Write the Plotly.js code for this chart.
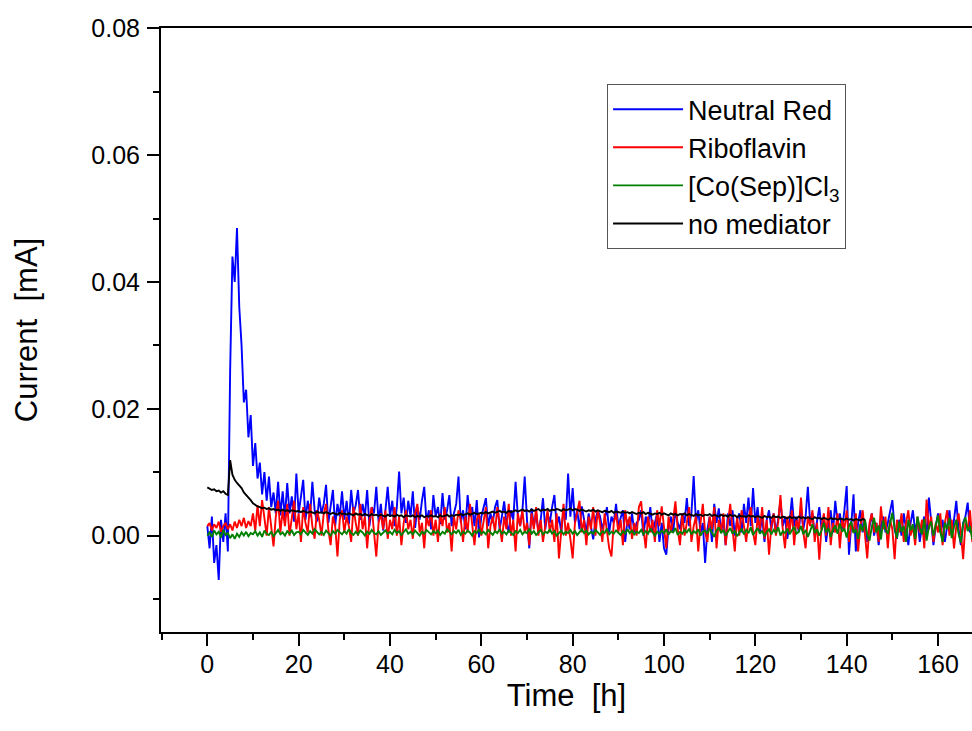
<!DOCTYPE html>
<html>
<head>
<meta charset="utf-8">
<script src="https://cdn.plot.ly/plotly-3.0.1.min.js"></script>
<style>
  html, body { margin: 0; padding: 0; background: #fff; }
  #chart { width: 972px; height: 731px; }
</style>
</head>
<body>
<div id="chart"></div>
<script>
// Time axis: samples every 0.5 h starting at 0 h (x0 / dx used by Plotly)
const timeStart_h = 0;
const timeStep_h = 0.5;

const seriesNames = ["Neutral Red", "Riboflavin", "[Co(Sep)]Cl<sub>3</sub>", "no mediator"];
const xTitle = "Time  [h]";
const yTitle = "Current  [mA]";

// Current values in µA (converted to mA when plotting)
const neutralRed_uA = [
  1.5, -2.0, 3.0, -4.3, -1.5, -7.0, 2.5, -1.0, 3.5, -2.5, 26, 44, 40, 48.5, 36, 30, 21, 23, 15.5, 19,
  11, 14.6, 9, 11.5, 6.5, 10, 5.5, 9.3, 4.5, 6.8, 3.5, 8.5, 3.2, 7, 2.8, 8.3, 3.5, 6.2, 2.2, 9.8,
  3.5, 5.8, 8.8, 2.5, 5.5, 3, 8.5, 4, 2.2, 6, 3.5, 5, 8, 2, 4.5, 7.2, 1.5, 5, 3, 7,
  2.5, 5.5, 1.8, 7.2, 3.5, 4.8, 7.2, 2.5, 5, 3, 7.2, 1.5, 4.5, 3.5, 7.7, 2.2, 5, 0.8, 4, 7.7,
  3, 5.5, 1.5, 4.5, 10.1, 3.5, 6, 2, 5.5, 3, 7, 1.2, 4.5, 2.5, 5.5, 7.7, 2, 4, 1, 6.4,
  3, 4.5, 1.8, 6.7, 2.5, 4, 6.4, 1.5, 3.5, 5, 9.3, 2, 4, 1, 6.4, 3, 4.5, 1.5, 5.6, -0.3,
  3, 4.5, 5.9, 1.5, 3.5, 2, 4.5, 5.6, 1, 3, 5.4, 2, 0.5, 4, 2.5, 8.5, 3, 1.5, 4, 9.3,
  2.5, -2, 4.3, 1.5, 3.5, 0.5, 2.5, 5.9, 1, 3.5, 2, 4.5, 6.4, 1.5, 3, 0.5, 4, 2.5, 9.8, 3,
  7.5, 2, 4, 1, 4.6, 2.5, 0.5, 3.5, 1.5, -0.6, 2.5, 4, 3, 1, 2.5, 4.5, 0.5, 3, 2, 5,
  1.5, 3, 4, -1, 2.5, 1, 3.5, 0.5, 2, 2.5, 4, 0, 3, 1.5, 4.5, 0.5, 2, 3.5, -1, 2,
  -2, -3, 1.5, 3, 0.5, 4, 2, 1, 3.5, 2, 5.9, 1.5, 3.5, 9.4, 2, 4, 0.5, 2, -4.3, 1,
  3, -1, 5, 2, 4.3, 0.5, 2.5, -1.5, 3.5, 1.5, 4, 0, 2.5, 3.5, 0.5, 5, 2, 6, 1.5, 7.5,
  2, 4.5, 0.5, 3, -1, 2.5, 4, 1, 3.5, 0.5, 2.5, 5.5, 1.5, 3, -0.5, 2, 6, 1.5, 3, 0.5,
  4.5, 1, 3, 7.7, 2, 3.5, 0, 2.5, 4.5, 1, 3, -1, 2, 4, 0.5, 5.5, 2, 3.5, 1, 4,
  7.8, -3, 1.5, 6.5, -2.5, 2, 4, 0.5, 2.5, -1, 1.5, 3.5, 0, 2, -1.5, 1.5, 3, 0.5, 2, 4,
  5.6, 1, -0.5, 2.5, 0, 3.5, 1, -1.5, 2, 4, 0.5, 2.5, -1, 1.5, 3, 0, 6, 2, -1.5, 1.5,
  3.5, 0.5, 2.5, -1, 1.5, 4, 0.5, 2.5, 5.5, 1, -1.5, 2, 3, 5.2, 0.5, 2, -0.5, 3, 1, 2.5, 0.5
];

const riboflavin_uA = [
  1.5, 2, 0.8, 1.8, 1.2, 2.2, 0.6, 1.5, 2, 1, 1.8, 0.8, 2.2, 1.2, 2.5, 1.5, 2.8, 1.2, 2.3, 1.5,
  3.5, 0.8, 4.8, 1.5, 5.6, 2.5, 0, 4.5, 1.5, -1.7, 3, 5.5, 0.5, 4, 1.5, 5, 0, 2.5, 5.5, 1,
  3.5, -1, 4.5, 2, 0.5, 5, 1.5, -0.5, 4, 2.5, 0, 3.5, 5, 1, -1.5, 3, 1.5, -3.3, 2.5, 4,
  0.5, 3, 1.5, -1, 4.5, 2, 0, 5, 1, 3, -2, 2.5, 4.5, 0.5, -3.3, 2, 3.5, 1, 4, -0.5,
  2.5, 1, 4.5, 0, 3, -1.5, 2, 4, 1, 2.5, -0.5, 3.5, 5, 0.5, 2, -2, 3, 1.5, 4, 0,
  2.5, -1, 3.5, 1.5, 4.5, 0.5, 2, -2.5, 3, 1, 4, 2.5, -1, 3, 0.5, 5, 1.5, -1.5, 2.5, 3.5,
  0, 2, 4.5, -2, 1.5, 3, 0.5, 4.5, 2, -1, 3, 1, 5, 0, 2.5, -2.5, 3.5, 1.5, 4, 0.5,
  2, -1.5, 3.5, 1, 4.5, 0, 2.5, -1, 1.5, 4, 0.5, 2.5, -1, 3.5, -3.6, 1.5, 5, 0, 2, -0.5,
  -3.6, 2, 4, 5.5, 0.5, 2.5, -1.5, 3, 1, 4.5, 0, 4, 2, -1, 3.5, 1, -2, -3.3, 2, 3.5,
  0.5, 2.5, -1.5, 4, 1.5, 3, -0.5, 2, 0, 4.5, 5.4, 1, -2, 3, 0.5, 2.5, -1, 4, 1.5, 4.6,
  1, -2, 3, 0.5, 2.5, 5.4, 1, -1.5, 3.5, 0, 2, 4.5, -1, 1.5, 3, -2.5, 2, 5, 0.5, -1,
  3, 1, 4.5, -2, 2.5, 0.5, 3.5, -1.5, 2, 5, 1, -2.5, 3, 0, 4, 1.5, -1, 2.5, 4.5, 0.5,
  -1.5, 3, 1, 4.5, -0.5, 2.5, -3, 1.5, 3.5, 0, 2, 6.4, 1, -2, 3, 0.5, 4, -1.5, 2.5, 1,
  6, 0.5, -2, 3, 1.5, 4, -1, 2, -3.8, 1.5, 3.5, 0, 4.5, -1.5, 2, 0.5, 3.5, -2, 2.5, 1,
  4, -1, 2, 0.5, 3.5, -2.5, 1.5, 4, 0, -3.6, 2, 3.5, 0.5, 2, -1, 4.6, 1, 3, -2, 2.5,
  1, -3.7, 2.5, 0.5, 3.5, -1, 2, 4, 0, 1.5, -1.5, 3, 0.5, 2.5, -2, 5.7, 1, 3, -1, 2,
  0.5, 3.5, -1.5, 2, 4, 0, 2.5, -2, 1.5, 3.5, 0.5, -3.7, 2, 1, 4, -1, 2.5, 0.5, 3, 1, 2
];

const coSep_uA = [
  0, 0.5, -0.2, 0.8, 0.2, 0.6, -0.3, 0.9, 0.1, 0.4, -0.4, 0.2, -0.5, 0.3, -0.2, 0.5, 0, 0.6, -0.1, 0.4,
  0.2, 0.7, 0, 0.5, -0.2, 0.8, 0.3, 0.1, 0.6, -0.1, 0.4, 0.9, 0.2, 0.5, 0, 0.7, 0.3, 0.8, 0.1, 0.5,
  0.6, 0.2, 0.9, 0.4, 0.1, 0.7, 0.3, 1, 0.5, 0.2, 0.6, 0.1, 0.8, 0.4, 0, 0.7, 0.3, 0.9, 0.5, 0.2,
  0.7, 0.3, 1, 0.4, 0.1, 0.6, 0.2, 0.8, 0.5, 0, 0.6, 0.3, 0.9, 0.4, 0.2, 0.7, 0.1, 0.5, 0.8, 0.3,
  0.6, 0.2, 0.9, 0.4, 0.7, 0.1, 0.5, 1, 0.3, 0.6, 0.2, 0.8, 0.4, 0, 0.6, 0.3, 0.9, 0.5, 0.2, 0.7,
  0.4, 0.8, 0.1, 0.6, 0.3, 1, 0.5, 0.2, 0.7, 0.4, 0.9, 0.1, 0.6, 0.3, 0.8, 0.5, 0, 0.7, 0.4, 1,
  0.3, 0.6, 0.2, 0.9, 0.5, 0.1, 0.7, 0.4, 1, 0.3, 0.6, 0.2, 0.8, 0.5, 0.1, 0.7, 0.4, 0.9, 0.2, 0.6,
  0.4, 1.1, 0.3, 0.7, 0.1, 0.5, 0.9, 0.2, 0.6, 0.4, 1, 0.3, 0.7, 0, 0.5, 0.8, 0.2, 0.6, 0.4, 0.9,
  0.3, 0.7, 0.1, 0.5, 1, 0.4, 0.8, 0.2, 0.6, 0.3, 0.9, 0.5, 0.1, 0.7, 0.4, 1.1, 0.2, 0.6, 0.3, 0.8,
  0.5, 0.1, 0.7, 0.3, 1, 0.4, 0.8, 0.2, 0.6, 0.4, 0.9, 0.2, 0.7, 0.3, 1.1, 0.5, 0, 0.6, 0.3, 0.8,
  0.4, 1, 0.2, 0.7, 0.5, 1.2, 0.1, 0.6, 0.3, 0.9, 0.5, 1.1, 0.2, 0.7, 0.4, 1, 0, 0.6, 0.8, 0.3,
  1.2, 0.5, -0.2, 0.8, 1.3, 0.4, 0.9, 0, 0.6, 1.2, 0.3, 0.8, -0.1, 0.5, 1.1, 0.2, 0.9, 0.4, 1.3, 0.1,
  0.7, 1.2, 0.3, 0.8, -0.1, 0.6, 1, 0.2, 0.9, 0.5, 1.3, 0, 0.7, 0.4, 1.1, 0.2, 0.8, 1.4, 0.3, 0.6,
  1.5, 0.2, 0.9, -0.2, 0.7, 1.8, 0.4, 1, 0, 0.8, 2, 0.5, 1.2, -0.2, 0.9, 1.6, 0.3, 1.9, 0.6, 1.1,
  -0.3, 1.5, 2.2, 0.4, 1, -0.5, 1.8, 0.7, 2.5, 0.2, -0.8, 1.4, 2.8, 0.5, 1.6, -0.6, 2.4, 1, 0.3, 2,
  3.6, 1.2, -0.4, 2.2, 0.6, 1.5, -1, 2.5, 0.8, 1.8, -0.5, 3, 1.2, 0.2, 2.6, -0.8, 1.4, 2.2, 0, 1.6,
  3.2, 0.6, -1, 2, 1, 2.8, -0.4, 1.4, 2.5, 0.3, -1.1, 1.8, 2.9, 0.7, 1.5, -0.6, 2.2, 1, 3, 0.4, 1.5
];

const noMediator_uA = [
  7.6, 7.4, 7.2, 7.3, 7, 7.1, 6.8, 7, 6.6, 6.4, 11.9, 9.6, 8.8, 8.3, 7.9, 7.5, 6.8, 6.4, 6.1, 5.6,
  5.1, 4.8, 4.6, 4.5, 4.3, 4.4, 4.2, 4.3, 4.1, 4.2, 4.0, 4.1, 3.9, 4.1, 3.9, 4.0, 3.8, 4.0, 3.9, 3.8,
  3.9, 3.7, 3.9, 3.8, 3.6, 3.8, 3.7, 3.5, 3.8, 3.6, 3.7, 3.5, 3.7, 3.6, 3.4, 3.6, 3.5, 3.3, 3.6, 3.4,
  3.5, 3.3, 3.5, 3.4, 3.2, 3.5, 3.3, 3.4, 3.2, 3.4, 3.3, 3.1, 3.4, 3.2, 3.3, 3.1, 3.3, 3.2, 3, 3.3,
  3.1, 3.2, 3, 3.3, 3.1, 3.2, 2.9, 3.2, 3.1, 3, 3.2, 2.9, 3.1, 3, 3.2, 2.9, 3.1, 3, 3.2, 3,
  3.1, 2.9, 3.2, 3, 3.1, 3.3, 3, 3.2, 3.1, 3.3, 3.2, 3.4, 3.2, 3.3, 3.5, 3.3, 3.4, 3.6, 3.4, 3.5,
  3.6, 3.5, 3.7, 3.5, 3.6, 3.8, 3.6, 3.7, 3.9, 3.7, 3.8, 3.6, 3.9, 3.7, 3.8, 4, 3.8, 3.9, 4.1, 3.9,
  4, 3.8, 4.1, 3.9, 4, 4.2, 3.9, 4.1, 4, 4.2, 3.9, 4.1, 4, 4.2, 4.1, 3.9, 4.2, 4, 4.1, 4.3,
  4, 4.2, 4.1, 3.9, 4.1, 4, 3.8, 4, 3.9, 4.1, 3.8, 4, 3.9, 3.7, 3.9, 3.8, 3.7, 3.9, 3.6, 3.8,
  3.7, 3.6, 3.8, 3.6, 3.7, 3.5, 3.7, 3.6, 3.4, 3.6, 3.5, 3.7, 3.4, 3.6, 3.5, 3.3, 3.5, 3.4, 3.6, 3.3,
  3.5, 3.4, 3.2, 3.5, 3.3, 3.4, 3.2, 3.4, 3.3, 3.5, 3.2, 3.4, 3.3, 3.1, 3.4, 3.2, 3.3, 3.1, 3.3, 3.2,
  3.4, 3.1, 3.3, 3.2, 3, 3.3, 3.1, 3.2, 3, 3.3, 3.1, 3.2, 2.9, 3.2, 3, 3.1, 2.9, 3.2, 3, 3.1,
  2.9, 3.1, 3, 2.8, 3.1, 2.9, 3, 2.8, 3.1, 2.9, 3, 2.8, 3, 2.9, 2.7, 3, 2.8, 2.9, 2.7, 3,
  2.8, 2.9, 2.7, 2.9, 2.8, 2.6, 2.9, 2.7, 2.8, 2.6, 2.8, 2.7, 2.5, 2.8, 2.6, 2.7, 2.5, 2.7, 2.6, 2.5,
  2.7, 2.5, 2.6, 2.4, 2.6, 2.5, 2.4, 2.6, 2.5
];

const seriesColors = ["#0000ff", "#ff0000", "#008000", "#000000"];
const seriesValues = [neutralRed_uA, riboflavin_uA, coSep_uA, noMediator_uA];

const traces = seriesValues.map((vals, i) => ({
  type: "scatter",
  mode: "lines",
  name: seriesNames[i],
  x0: timeStart_h,
  dx: timeStep_h,
  y: vals.map(v => v / 1000),
  line: { color: seriesColors[i], width: 1.9 }
}));

const axisCommon = {
  showline: true, linewidth: 2, linecolor: "#000",
  ticks: "outside", ticklen: 12, tickwidth: 2, tickcolor: "#000",
  showgrid: false, zeroline: false,
  tickfont: { size: 25, color: "#000" }
};

const layout = {
  width: 972, height: 731,
  margin: { l: 161, r: 0, t: 28, b: 99 },
  paper_bgcolor: "#fff", plot_bgcolor: "#fff",
  font: { family: "Liberation Sans, Arial, sans-serif", color: "#000" },
  showlegend: true,
  legend: {
    x: 0.55, y: 0.907, xanchor: "left", yanchor: "top",
    bordercolor: "#555", borderwidth: 1, bgcolor: "#fff",
    font: { size: 27, color: "#000" },
    itemwidth: 70
  },
  xaxis: Object.assign({}, axisCommon, {
    range: [-10.14, 167.44], tick0: 0, dtick: 20, mirror: true,
    ticklabelstandoff: -3,
    minor: { tick0: 0, dtick: 10, ticks: "outside", ticklen: 6, tickwidth: 2, tickcolor: "#000", showgrid: false },
    title: { text: xTitle, font: { size: 31 }, standoff: 0 }
  }),
  yaxis: Object.assign({}, axisCommon, {
    range: [-0.0152, 0.08005], tick0: 0, dtick: 0.02, tickformat: ".2f",
    ticklabelstandoff: 2,
    minor: { tick0: 0, dtick: 0.01, ticks: "outside", ticklen: 6, tickwidth: 2, tickcolor: "#000", showgrid: false },
    title: { text: yTitle, font: { size: 31 }, standoff: 44 }
  })
};

Plotly.newPlot("chart", traces, layout, { displayModeBar: false, staticPlot: true });
</script>
</body>
</html>
